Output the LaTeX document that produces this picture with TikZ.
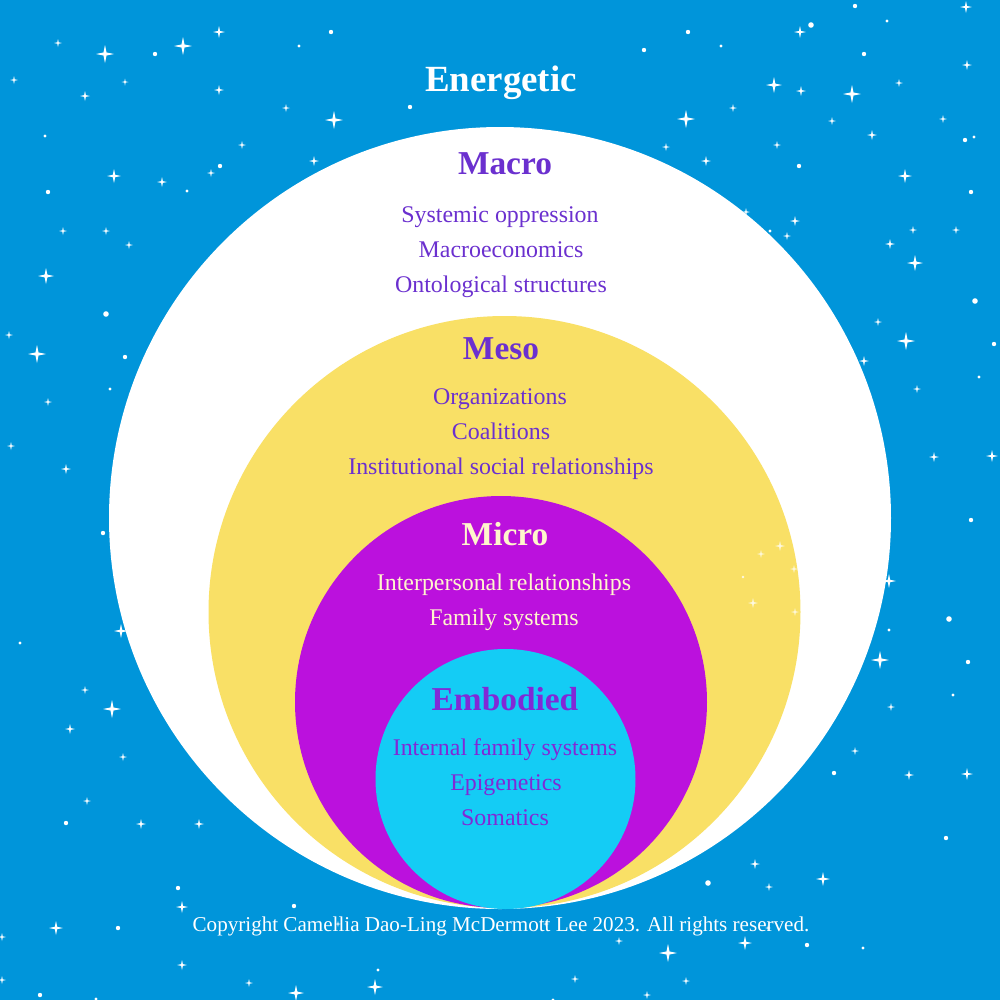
\documentclass[tikz,border=0pt]{standalone}
\usepackage{fontspec}
\setmainfont{Liberation Serif}
\definecolor{skyblue}{HTML}{0095DA}
\definecolor{sunyellow}{HTML}{F9E066}
\definecolor{deepmagenta}{HTML}{BB11DD}
\definecolor{brightcyan}{HTML}{14CCF5}
\definecolor{ringpurple}{HTML}{6B30CF}
\definecolor{cream}{HTML}{FFF6CC}
\begin{document}
\begin{tikzpicture}[x=0.1mm,y=-0.1mm,
  spark/.style={fill=white},
  head/.style={font=\fontsize{9.5}{11}\selectfont\bfseries,anchor=base},
  item/.style={font=\fontsize{6.8}{8}\selectfont,anchor=base}]
  \useasboundingbox (0,0) rectangle (1000,1000);
  \fill[skyblue] (0,0) rectangle (1000,1000);
  % night sky
  \foreach \x/\y/\s in {58/43/4,105/54/9,183/46/9,219/32/6,14/80/4,125/82/3.5,85/96/5,219/90/5,
      286/108/4,334/120/9,242/145/4,211/173/4,114/176/7,162/182/5,314/161/5,63/231/4,106/231/4,129/245/4,
      966/7/6,800/32/6,967/65/5,774/85/8,801/91/5,852/94/9,899/83/4,733/108/4,686/119/9,832/121/4,
      943/119/4,872/135/5,666/147/4,777/145/4,706/161/5,905/176/7,746/212/4,795/221/5,787/236/4,
      913/230/4,956/230/4,890/244/5,46/276/8,9/335/4,37/354/9,48/402/4,11/446/4,66/469/5,
      915/263/8,878/322/4,906/341/9,864/361/5,917/389/4,934/457/5,992/456/6,889/581/7,880/660/9,891/707/4,
      121/631/7,85/690/4,112/709/9,70/729/5,123/757/4,87/801/4,141/824/5,199/824/5,
      182/907/6,56/928/7,2/937/4,182/965/5,249/983/4,296/993/8,2/980/4,
      855/751/4,909/775/5,967/774/6,755/864/5,823/879/7,769/887/4,745/943/7,
      619/941/4,668/953/9,375/987/8,575/979/4,686/981/4,647/995/4,338/924/3,546/924/3,768/928/3}
    \fill[spark] (\x,\y) +(0,-\s) -- +(.17*\s,-.17*\s) -- +(\s,0) -- +(.17*\s,.17*\s)
      -- +(0,\s) -- +(-.17*\s,.17*\s) -- +(-\s,0) -- +(-.17*\s,-.17*\s) -- cycle;
  \foreach \x/\y/\r in {155/54/2.2,331/32/2.2,299/46/1.6,45/136/1.6,220/166/2.2,187/191/1.6,48/192/2.2,
      855/6/2.2,688/32/2.2,721/46/1.6,811/25/2.8,887/21/1.6,864/54/2.2,965/140/2.2,974/137/1.6,
      799/166/2.2,971/192/2.2,770/231/1.6,106/314/2.8,125/357/2.2,110/389/1.6,103/533/2.2,
      975/301/2.8,994/344/2.2,979/377/1.6,971/520/2.2,949/619/2.8,889/630/1.6,968/662/2.2,953/695/1.6,
      20/643/1.6,66/823/2.2,178/888/2.2,294/906/2.2,118/928/2.2,40/995/2.2,96/999/1.6,
      834/773/2.2,946/838/2.2,708/883/2.8,807/945/2.2,863/948/1.6,378/970/1.6,553/1000/1.6,644/50/2.2,410/107/2.2}
    \fill[white] (\x,\y) circle (\r);
  % nested rings
  \fill[white] (500,518) circle (391);
  \fill[sunyellow] (504.5,612) circle (296);
  \foreach \x/\y/\s in {780/546/5,761/554/4,794/569/4,753/603/5,795/612/4}
    \fill[spark,opacity=.8] (\x,\y) +(0,-\s) -- +(.17*\s,-.17*\s) -- +(\s,0) -- +(.17*\s,.17*\s)
      -- +(0,\s) -- +(-.17*\s,.17*\s) -- +(-\s,0) -- +(-.17*\s,-.17*\s) -- cycle;
  \fill[white,opacity=.8] (743,577) circle (1.4);
  \fill[deepmagenta] (501,702) circle (206);
  \fill[brightcyan] (505.5,779) circle (130);
  % labels
  \node[head,white,font=\fontsize{10.5}{12}\selectfont\bfseries] (energetic) at (501,91) {Energetic};
  \node[head,ringpurple] (macro) at (505,174) {Macro};
  \node[item,ringpurple] (macroA) at (500,222) {Systemic oppression};
  \node[item,ringpurple] (macroB) at (501,257) {Macroeconomics};
  \node[item,ringpurple] (macroC) at (501,292) {Ontological structures};
  \node[head,ringpurple] (meso) at (501,359) {Meso};
  \node[item,ringpurple] (mesoA) at (500,404) {Organizations};
  \node[item,ringpurple] (mesoB) at (501,439) {Coalitions};
  \node[item,ringpurple] (mesoC) at (501,474) {Institutional social relationships};
  \node[head,cream] (micro) at (505,545) {Micro};
  \node[item,cream] (microA) at (504,590) {Interpersonal relationships};
  \node[item,cream] (microB) at (504,625) {Family systems};
  \node[head,ringpurple!85!magenta] (embodied) at (505,710) {Embodied};
  \node[item,ringpurple!85!magenta] (embodiedA) at (505,755) {Internal family systems};
  \node[item,ringpurple!85!magenta] (embodiedB) at (506,790) {Epigenetics};
  \node[item,ringpurple!85!magenta] (embodiedC) at (505,825) {Somatics};
  \node[item,white,font=\fontsize{6}{7}\selectfont] (copyright) at (501,931) {Copyright Camellia Dao-Ling McDermott Lee 2023. All rights reserved.};
\end{tikzpicture}
\end{document}
